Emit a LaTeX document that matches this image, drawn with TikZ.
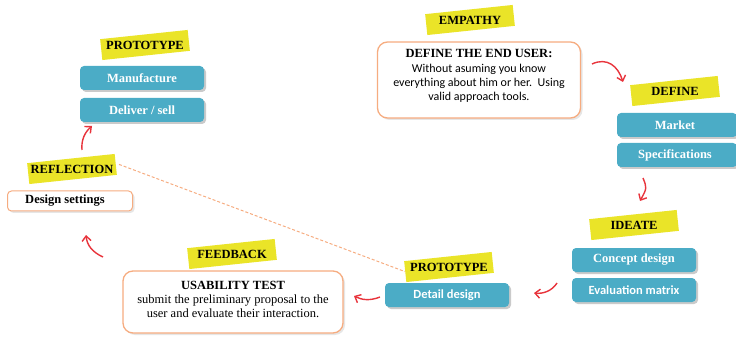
\documentclass[tikz,border=0pt]{standalone}
\usepackage{fontspec}
\setmainfont{Liberation Serif}
\newfontfamily\calib{Carlito}
\usetikzlibrary{shadows,arrows.meta}
\definecolor{teal1}{RGB}{75,172,198}
\definecolor{ylw}{RGB}{234,228,40}
\definecolor{orng}{RGB}{246,172,128}
\definecolor{redar}{RGB}{232,52,60}
\begin{document}
\begin{tikzpicture}[x=1pt,y=-1pt,
 ylwbox/.style={fill=ylw, rotate=6, minimum width=88pt, minimum height=21pt, inner sep=0pt},
 lbl/.style={font=\fontsize{12.5}{14}\selectfont\bfseries, inner sep=0pt},
 tealbox/.style={fill=teal1, rounded corners=4pt, minimum width=124pt, minimum height=24pt, text=white,
   font=\fontsize{12.5}{14}\selectfont\bfseries, inner sep=0pt,
   drop shadow={shadow xshift=2pt,shadow yshift=-2pt,opacity=0.35,fill=black!60}},
 obox/.style={draw=orng, line width=1.3pt, fill=white, rounded corners=10pt, inner sep=0pt,
   drop shadow={shadow xshift=2pt,shadow yshift=-2pt,opacity=0.2,fill=black!50}},
 txt/.style={font=\fontsize{12.5}{14}\selectfont, align=center, inner sep=0pt},
 redarrow/.style={draw=redar, line width=1.4pt, -{Straight Barb[length=5pt,width=9pt]}},
 dashln/.style={draw=orng, line width=1pt, dashed, dash pattern=on 3pt off 2pt}
]
\useasboundingbox (0,0) rectangle (736,339);

% --- top-left prototype
\node[ylwbox] (p1bg) at (145,45) {};
\node[lbl] (p1) at (145,45) {PROTOTYPE};
\node[tealbox] (manu) at (142,78) {Manufacture};
\node[tealbox] (deliv) at (142,110) {Deliver / sell};

% --- empathy
\node[ylwbox] (empbg) at (470,20) {};
\node[lbl] (emp) at (470,20) {EMPATHY};
\node[obox, minimum width=203pt, minimum height=76pt] (user) at (479,80) {};
\node[txt] (usertxt) at (479,76) {\textbf{DEFINE THE END USER:}\\[1pt]
  {\calib\fontsize{12}{12.5}\selectfont Without asuming you know}\\
  {\calib\fontsize{12}{12.5}\selectfont everything about him or her.\ \ Using}\\
  {\calib\fontsize{12}{12.5}\selectfont valid approach tools.}};

% --- define
\node[ylwbox] (defbg) at (675,91) {};
\node[lbl] (def) at (675,91) {DEFINE};
\node[tealbox, minimum width=120pt] (market) at (677,125) {\hspace*{-4pt}Market};
\node[tealbox, minimum width=120pt] (specs) at (677,155) {\hspace*{-4pt}Specifications};

% --- ideate
\node[ylwbox] (idbg) at (634,225) {};
\node[lbl] (idea) at (634,225) {IDEATE};
\node[tealbox] (concept) at (634,260) {Concept design};
\node[tealbox, font=\calib\fontsize{12.5}{14}\selectfont\bfseries] (evalm) at (634,290) {Evaluation matrix};

% --- prototype 2
\node[ylwbox] (p2bg) at (449,267) {};
\node[lbl] (p2) at (449,267) {PROTOTYPE};
\node[tealbox, font=\calib\fontsize{12.5}{14}\selectfont\bfseries] (detail) at (447,295) {Detail design};

% --- feedback
\node[ylwbox] (fbbg) at (232,254) {};
\node[lbl] (fb) at (232,254) {FEEDBACK};
\node[obox, minimum width=220pt, minimum height=62pt] (usab) at (233,302) {};
\node[txt] (usabtxt) at (233,299) {\textbf{USABILITY TEST}\\submit the preliminary proposal to the\\user and evaluate their interaction.};

% --- reflection
\node[ylwbox] (refbg) at (72,169) {};
\node[lbl] (ref) at (72,169) {REFLECTION};
\node[obox, rounded corners=4pt, line width=1pt, minimum width=125pt, minimum height=20pt,
  font=\fontsize{12.5}{14}\selectfont\bfseries] (dset) at (70,201) {\hspace*{-10pt}Design settings};

% --- connectors
\coordinate (a1s) at (592,64);  \coordinate (a1e) at (623,82);
\coordinate (a2s) at (643,178); \coordinate (a2e) at (640,201);
\coordinate (a3s) at (557,283); \coordinate (a3e) at (534,293);
\coordinate (a4s) at (380,297); \coordinate (a4e) at (354,296);
\coordinate (a5s) at (103,257); \coordinate (a5e) at (86,235);
\coordinate (a6s) at (82,150);  \coordinate (a6e) at (92,126);

\draw[redarrow] (a1s) .. controls (607,57) and (618,66) .. (a1e);
\draw[redarrow] (a2s) .. controls (647,188) .. (a2e);
\draw[redarrow] (a3s) .. controls (552,291) and (543,294) .. (a3e);
\draw[redarrow] (a4s) .. controls (370,301) and (362,300) .. (a4e);
\draw[redarrow] (a5s) .. controls (92,252) and (87,245) .. (a5e);
\draw[redarrow] (a6s) .. controls (81,140) and (85,132) .. (a6e);

\draw[dashln] ([xshift=3pt]refbg.east) -- (p2bg.west);
\end{tikzpicture}
\end{document}
